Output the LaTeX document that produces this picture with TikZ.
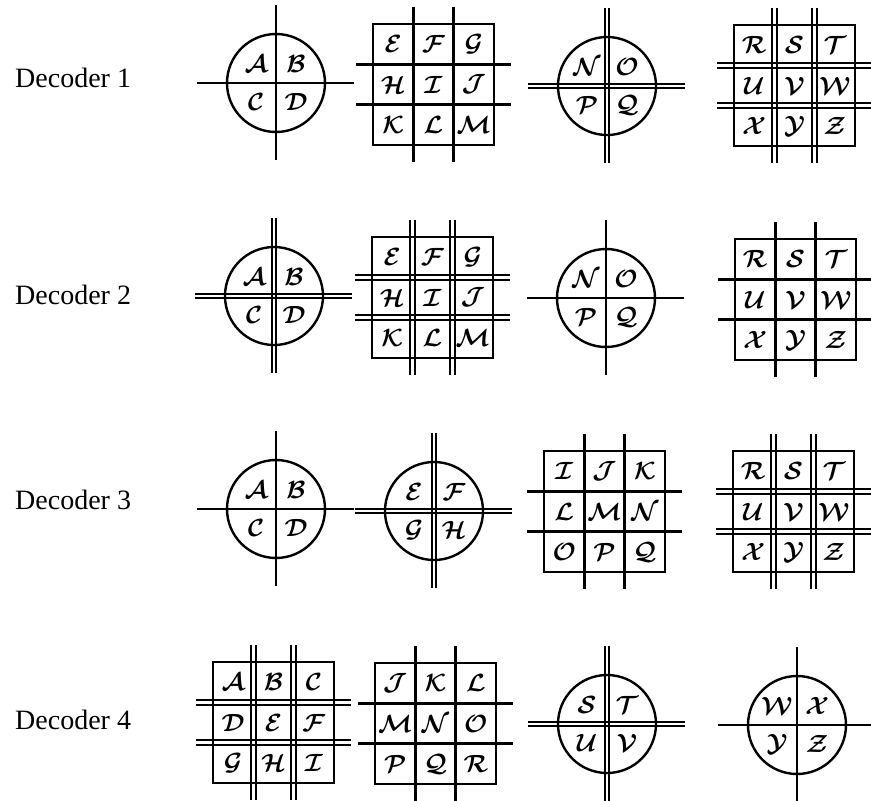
\documentclass[tikz,border=0pt]{standalone}
\usepackage{fontspec}
\setmainfont{Liberation Serif}
\usepackage{amsmath,bm}
\tikzset{
  ln/.style={line width=2.4pt},
  dln/.style={line width=1.9pt},
  rim/.style={line width=2.4pt},
  let/.style={inner sep=0pt, font=\fontsize{24}{24}\selectfont},
  lab/.style={anchor=base west, inner sep=0pt, font=\fontsize{28}{28}\selectfont}
}
% vertical line: x, y1, y2, s|d
\newcommand\myV[4]{%
  \if#4d
    \draw[dln] ({#1-2.3},{#2}) -- ({#1-2.3},{#3});
    \draw[dln] ({#1+2.3},{#2}) -- ({#1+2.3},{#3});
  \else
    \draw[ln] ({#1},{#2}) -- ({#1},{#3});
  \fi}
% horizontal line: y, x1, x2, s|d
\newcommand\myH[4]{%
  \if#4d
    \draw[dln] ({#2},{#1-2.3}) -- ({#3},{#1-2.3});
    \draw[dln] ({#2},{#1+2.3}) -- ({#3},{#1+2.3});
  \else
    \draw[ln] ({#2},{#1}) -- ({#3},{#1});
  \fi}
\newcommand\CL[1]{$\bm{\mathcal{#1}}$}
% circle: name, cx, cy, v, h, four letters
\newcommand\Circ[9]{%
  \myV{#2}{#3-78}{#3+77}{#4}
  \myH{#3}{#2-79}{#2+78}{#5}
  \draw[rim] (#2,#3) circle[radius=49];
  \node[let] (#1a) at ({#2-20},{#3-19}) {\CL{#6}};
  \node[let] (#1b) at ({#2+20},{#3-19}) {\CL{#7}};
  \node[let] (#1c) at ({#2-20},{#3+19}) {\CL{#8}};
  \node[let] (#1d) at ({#2+20},{#3+19}) {\CL{#9}};
}
% grid: name, x0, y0, v, h, list of nine letters
\newcommand\Grid[6]{%
  \myV{#2+121/3}{#3-17}{#3+138}{#4}
  \myV{#2+242/3}{#3-17}{#3+138}{#4}
  \myH{#3+121/3}{#2-17}{#2+138}{#5}
  \myH{#3+242/3}{#2-17}{#2+138}{#5}
  \draw[rim] (#2,#3) rectangle ({#2+121},{#3+121});
  \foreach \L [count=\i from 0] in {#6} {
    \pgfmathsetmacro\cc{mod(\i,3)}
    \pgfmathsetmacro\rr{int(\i/3)}
    \node[let] (#1-\i) at ({#2+(\cc+0.5)*121/3},{#3+(\rr+0.5)*121/3}) {\CL{\L}};
  }
}
\begin{document}
\begin{tikzpicture}[x=1pt,y=-1pt]
\useasboundingbox (0,0) rectangle (871,801);
% labels
\node[lab] (d1) at (15,87) {Decoder 1};
\node[lab] (d2) at (15,304) {Decoder 2};
\node[lab] (d3) at (15,509) {Decoder 3};
\node[lab] (d4) at (15,729) {Decoder 4};
% row 1
\Circ{ra}{276}{83}{s}{s}{A}{B}{C}{D}
\Grid{rb}{373}{24}{s}{s}{E,F,G,H,I,J,K,L,M}
\Circ{rc}{607}{86}{d}{d}{N}{O}{P}{Q}
\Grid{rd}{734}{25}{d}{d}{R,S,T,U,V,W,X,Y,Z}
% row 2
\Circ{sa}{274}{296}{d}{d}{A}{B}{C}{D}
\Grid{sb}{372}{237}{d}{d}{E,F,G,H,I,J,K,L,M}
\Circ{sc}{606}{298}{s}{s}{N}{O}{P}{Q}
\Grid{sd}{735}{239}{s}{s}{R,S,T,U,V,W,X,Y,Z}
% row 3
\Circ{ta}{276}{509}{s}{s}{A}{B}{C}{D}
\Circ{tb}{434}{511}{d}{d}{E}{F}{G}{H}
\Grid{tc}{544}{451}{s}{s}{I,J,K,L,M,N,O,P,Q}
\Grid{td}{733}{451}{d}{d}{R,S,T,U,V,W,X,Y,Z}
% row 4
\Grid{ua}{213}{662}{d}{d}{A,B,C,D,E,F,G,H,I}
\Grid{ub}{375}{663}{s}{s}{J,K,L,M,N,O,P,Q,R}
\Circ{uc}{607}{724}{d}{d}{S}{T}{U}{V}
\Circ{ud}{797}{725}{s}{s}{W}{X}{Y}{Z}
\end{tikzpicture}
\end{document}
